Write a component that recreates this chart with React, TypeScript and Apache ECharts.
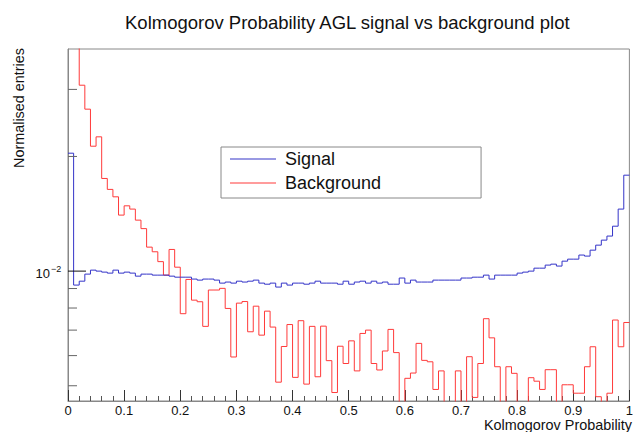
import React, { useEffect, useRef } from "react";
import * as echarts from "echarts";

const TITLE = "Kolmogorov Probability AGL signal vs background plot";
const X_NAME = "Kolmogorov Probability";
const Y_NAME = "Normalised entries";
const SERIES_NAMES = ["Signal", "Background"];

const X_MIN = 0;
const X_MAX = 1;
const N_BINS = 100;
const Y_MIN = 0.00456;
const Y_MAX = 0.0383;
const Y_TICKS = [0.005, 0.006, 0.007, 0.008, 0.009, 0.01, 0.02, 0.03];
const Y_MAJOR = 0.01;

const SIGNAL = [
  0.0204, 0.00919, 0.00941, 0.00982, 0.01006, 0.0100, 0.00994, 0.00988, 0.01006, 0.00988,
  0.00994, 0.00988, 0.0097, 0.00982, 0.00982, 0.00976, 0.00976, 0.00976, 0.0097, 0.00964,
  0.00964, 0.00964, 0.00953, 0.00947, 0.00953, 0.00953, 0.00947, 0.0093, 0.00936, 0.0093,
  0.00941, 0.00936, 0.00941, 0.00947, 0.0093, 0.00924, 0.0093, 0.00908, 0.0093, 0.00919,
  0.0093, 0.0093, 0.00924, 0.0093, 0.00941, 0.0093, 0.0093, 0.0093, 0.00924, 0.00941,
  0.00924, 0.00936, 0.00941, 0.0093, 0.00941, 0.0093, 0.00936, 0.00924, 0.00924, 0.00959,
  0.0093, 0.00947, 0.00936, 0.00936, 0.00936, 0.00947, 0.00947, 0.00947, 0.00947, 0.00947,
  0.00959, 0.00959, 0.00964, 0.00964, 0.00976, 0.00953, 0.00976, 0.00976, 0.00976, 0.00976,
  0.00988, 0.00994, 0.01, 0.01018, 0.01018, 0.01037, 0.01043, 0.01031, 0.01062, 0.01075,
  0.01075, 0.01102, 0.01095, 0.01135, 0.0117, 0.01206, 0.01236, 0.01312, 0.01455, 0.01786,
];

const BACKGROUND = [
  0.072, 0.043, 0.03077, 0.02662, 0.02128, 0.02252, 0.01751, 0.01639, 0.01567, 0.01403,
  0.01484, 0.01455, 0.01361, 0.01293, 0.01156, 0.01124, 0.01059, 0.00976, 0.0114, 0.01024,
  0.00773, 0.00951, 0.00839, 0.00831, 0.00716, 0.00892, 0.00892, 0.00901, 0.00798, 0.00595,
  0.00824, 0.00832, 0.00693, 0.00809, 0.00679, 0.00785, 0.00713, 0.00511, 0.00634, 0.00724,
  0.00526, 0.00741, 0.00505, 0.00716, 0.00528, 0.00717, 0.00582, 0.0048, 0.00635, 0.00572,
  0.00656, 0.00547, 0.00686, 0.007, 0.00572, 0.0055, 0.00617, 0.00703, 0.00611, 0,
  0.00523, 0.0054, 0.00646, 0.00583, 0.00578, 0.00489, 0.00547, 0, 0, 0.00547,
  0, 0.00596, 0.00466, 0.00572, 0.0075, 0.00668, 0.00561, 0, 0.00561, 0.00539,
  0, 0, 0.00525, 0.00514, 0.00489, 0.00551, 0.00551, 0, 0.00503, 0.00503,
  0.00478, 0.00478, 0.00561, 0.00633, 0.00468, 0, 0.00478, 0.00744, 0.00633, 0.00733,
];

const FONT = "'Liberation Sans', Arial, Helvetica, sans-serif";
const FLOOR = 1e-4; // empty bins drop below the log axis

function histData(values: number[]) {
  const w = (X_MAX - X_MIN) / N_BINS;
  const pts: number[][] = values.map((v, i) => [X_MIN + i * w, v > 0 ? v : FLOOR]);
  const last = values[values.length - 1];
  pts.push([X_MAX, last > 0 ? last : FLOOR]);
  return pts;
}

export default function App() {
  const ref = useRef<HTMLDivElement>(null);
  useEffect(() => {
    if (!ref.current) return;
    const chart = echarts.init(ref.current, undefined, { renderer: "svg" });
    const option: any = {
      animation: false,
      backgroundColor: "#fff",
      textStyle: { fontFamily: FONT },
      title: {
        text: TITLE,
        left: 125,
        top: 13,
        padding: 0,
        textStyle: { fontSize: 18.5, fontWeight: "normal", color: "#111", fontFamily: FONT },
      },
      legend: {
        data: SERIES_NAMES,
        orient: "vertical",
        left: 221,
        top: 147,
        padding: [3, 100, 6, 9],
        itemGap: 6,
        itemWidth: 46,
        itemHeight: 1,
        icon: "rect",
        borderColor: "#888",
        borderWidth: 1,
        borderRadius: 0,
        backgroundColor: "#fff",
        textStyle: { fontSize: 18, color: "#111", fontFamily: FONT, padding: [0, 0, 0, 4] },
      },
      grid: {
        left: 68,
        top: 49,
        width: 564,
        height: 352,
        show: true,
        borderColor: "#888",
        borderWidth: 1,
        backgroundColor: "transparent",
      },
      xAxis: {
        type: "value",
        min: X_MIN,
        max: X_MAX,
        interval: 0.1,
        axisLine: { show: true, lineStyle: { color: "#888", width: 1 } },
        axisTick: { show: true, inside: true, length: 11, lineStyle: { color: "#333" } },
        minorTick: { show: true, splitNumber: 5, length: 5, lineStyle: { color: "#555" } },
        axisLabel: { fontSize: 13, color: "#111", margin: 3, fontFamily: FONT, lineHeight: 13 },
        splitLine: { show: false },
      },
      yAxis: {
        type: "log",
        logBase: 10,
        min: Y_MIN,
        max: Y_MAX,
        axisLine: { show: true, lineStyle: { color: "#888", width: 1 } },
        axisTick: { show: false },
        axisLabel: { show: false },
        splitLine: { show: false },
        minorTick: { show: false },
      },
      graphic: [
        {
          type: "text",
          x: 19,
          y: 48,
          rotation: Math.PI / 2,
          style: {
            text: Y_NAME,
            fontSize: 14.4,
            fontFamily: FONT,
            fill: "#111",
            align: "right",
            verticalAlign: "middle",
          },
        },
        {
          type: "text",
          x: 632,
          y: 417.5,
          style: {
            text: X_NAME,
            fontSize: 14.4,
            lineHeight: 14,
            fontFamily: FONT,
            fill: "#111",
            align: "right",
            verticalAlign: "top",
          },
        },
      ],
      series: [
        {
          name: SERIES_NAMES[0],
          type: "line",
          step: "end",
          symbol: "none",
          clip: true,
          data: histData(SIGNAL),
          lineStyle: { color: "#3434c8", width: 1 },
          itemStyle: { color: "#3434c8" },
          z: 3,
        },
        {
          name: SERIES_NAMES[1],
          type: "line",
          step: "end",
          symbol: "none",
          clip: true,
          data: histData(BACKGROUND),
          lineStyle: { color: "#ff3a3a", width: 1 },
          itemStyle: { color: "#ff3a3a" },
          z: 2,
        },
        {
          type: "custom",
          name: "yticks",
          clip: false,
          silent: true,
          z: 5,
          data: Y_TICKS.map((v) => [X_MIN, v]),
          renderItem: (params: any, api: any) => {
            const v = api.value(1);
            const p = api.coord([X_MIN, v]);
            const major = Math.abs(v - Y_MAJOR) < 1e-9;
            const len = major ? 18 : 9;
            const children: any[] = [
              {
                type: "line",
                shape: { x1: p[0], y1: p[1], x2: p[0] + len, y2: p[1] },
                style: { stroke: major ? "#111" : "#666", lineWidth: 1 },
              },
            ];
            if (major) {
              children.push({
                type: "text",
                x: p[0] - 18,
                y: p[1] + 2,
                style: {
                  text: "10",
                  fontSize: 13,
                  fontFamily: FONT,
                  fill: "#111",
                  align: "right",
                  verticalAlign: "middle",
                },
              });
              children.push({
                type: "text",
                x: p[0] - 17,
                y: p[1] - 2,
                style: {
                  text: "\u22122",
                  fontSize: 9,
                  fontFamily: FONT,
                  fill: "#111",
                  align: "left",
                  verticalAlign: "middle",
                },
              });
            }
            return { type: "group", children };
          },
        },
      ],
    };
    chart.setOption(option);
    return () => chart.dispose();
  }, []);
  return (
    <div
      ref={ref}
      style={{ position: "absolute", left: 0, top: 0, width: 636, height: 432 }}
    />
  );
}
